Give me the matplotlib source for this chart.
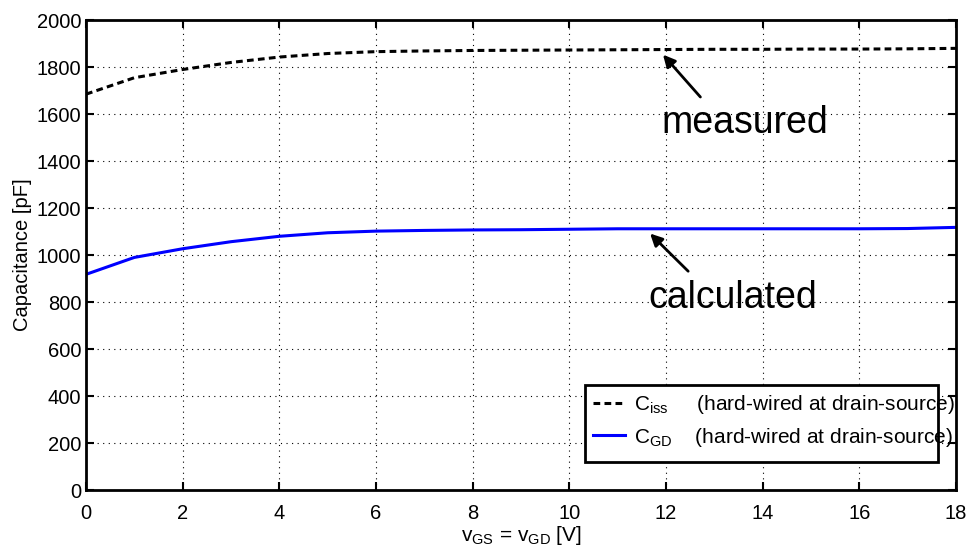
import matplotlib
matplotlib.use('Agg')
import matplotlib.pyplot as plt
from matplotlib.patches import Rectangle

plt.rcParams['font.family'] = ['Liberation Sans', 'DejaVu Sans']
plt.rcParams['mathtext.fontset'] = 'custom'
plt.rcParams['mathtext.rm'] = 'Liberation Sans'
plt.rcParams['mathtext.it'] = 'Liberation Sans'

# data
v = [0, 1, 2, 3, 4, 5, 6, 7, 8, 9, 10, 11, 12, 13, 14, 15, 16, 17, 18]
c_iss = [1685, 1755, 1790, 1820, 1843, 1858, 1866, 1869, 1871, 1872, 1873, 1874,
         1875, 1876, 1876, 1877, 1877, 1878, 1880]
c_gd = [918, 990, 1027, 1057, 1080, 1095, 1102, 1105, 1107, 1108, 1110, 1112,
        1112, 1112, 1112, 1112, 1112, 1113, 1118]
xticks = list(range(0, 19, 2))
yticks = list(range(0, 2001, 200))

fig = plt.figure(figsize=(9.74, 5.45), dpi=100)
ax = fig.add_axes([0.0883, 0.1009, 0.8932, 0.8621])

ax.plot(v, c_iss, 'k--', lw=2.2, dashes=(2.2, 1.4),
        label=r'C$_{\rm iss}$     (hard-wired at drain-source)')
ax.plot(v, c_gd, color='#0000ff', lw=2.2,
        label=r'C$_{\rm GD}$    (hard-wired at drain-source)')

ax.set_xlim(0, 18)
ax.set_ylim(0, 2000)
ax.set_xticks(xticks)
ax.set_yticks(yticks)
ax.grid(True, color='black', linestyle=(0, (1, 4)), linewidth=0.8)
ax.tick_params(direction='in', top=True, right=True, labelsize=14.5, length=6, width=1.5)
ax.tick_params(axis='x', pad=10)
for s in ax.spines.values():
    s.set_linewidth(2)

ax.set_ylabel('Capacitance [pF]', fontsize=14.5)
ax.yaxis.set_label_coords(-0.062, 0.5)
ax.set_xlabel(r'v$_{\rm GS}$ = v$_{\rm GD}$ [V]', fontsize=15)
ax.xaxis.set_label_coords(0.5, -0.072)

ax.annotate('', xy=(11.9, 1862), xytext=(12.75, 1664),
            arrowprops=dict(arrowstyle='-|>', color='black', lw=2, mutation_scale=18))
ax.text(13.64, 1562, 'measured', fontsize=27, ha='center', va='center')
ax.annotate('', xy=(11.63, 1100), xytext=(12.5, 923),
            arrowprops=dict(arrowstyle='-|>', color='black', lw=2, mutation_scale=18))
ax.text(13.39, 817, 'calculated', fontsize=27, ha='center', va='center')

leg = ax.legend(loc='upper left', bbox_to_anchor=(0.5736, 0.2234), borderaxespad=0,
                fontsize=15, frameon=False, handlelength=1.5, handletextpad=0.45,
                borderpad=0.4, labelspacing=0.45)
# box drawn separately, the text runs past it like in the original
ax.add_patch(Rectangle((0.5736, 0.0596), 0.4057, 0.1638, transform=ax.transAxes,
                       facecolor='white', edgecolor='black', lw=2, zorder=4.9))

fig.savefig('out.png', dpi=100)
